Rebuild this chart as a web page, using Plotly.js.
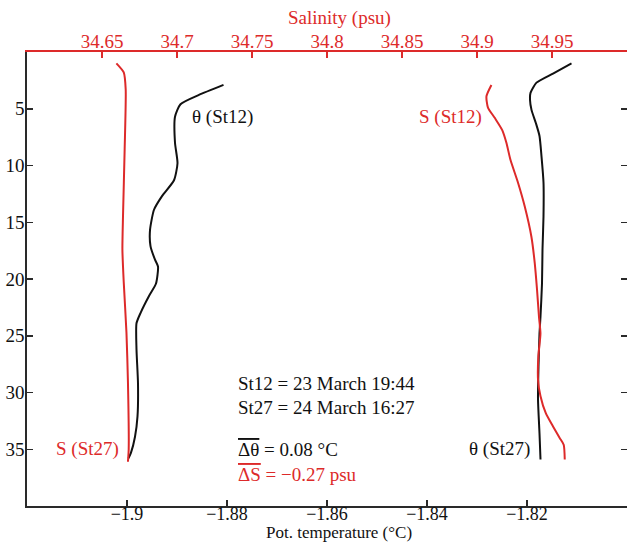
<!DOCTYPE html>
<html>
<head>
<meta charset="utf-8">
<script src="https://cdn.plot.ly/plotly-3.0.1.min.js"></script>
<style>
  html, body { margin: 0; padding: 0; background: #fff; overflow: hidden; }
  #chart { width: 627px; height: 543px; }
</style>
</head>
<body>
<div id="chart"></div>
<script>
// Depth profiles (m) of potential temperature and salinity at two stations
const thetaSt12Depth = [2.9, 3.8, 4.6, 5.7, 8.0, 9.8, 11.3, 12.7, 13.9, 15.7, 17.1, 18.3, 18.9, 20.4, 21.5, 23.0, 23.9, 26.2, 29.2, 32.1, 33.9, 35.3, 35.8];
const thetaSt12 = [-1.8807, -1.8857, -1.8893, -1.8904, -1.8904, -1.8899, -1.8906, -1.8930, -1.8946, -1.8954, -1.8953, -1.8944, -1.8938, -1.8942, -1.8956, -1.8973, -1.8981, -1.8981, -1.8978, -1.8979, -1.8984, -1.8992, -1.8997];

const thetaSt27Depth = [1.0, 1.9, 2.7, 3.6, 4.2, 5.1, 6.3, 7.4, 9.2, 11.5, 14.5, 17.4, 20.4, 23.3, 24.8, 27.7, 30.6, 33.6, 35.9];
const thetaSt27 = [-1.8111, -1.8148, -1.8181, -1.8193, -1.8194, -1.8191, -1.8182, -1.8175, -1.8171, -1.8167, -1.8167, -1.8169, -1.8170, -1.8173, -1.8175, -1.8177, -1.8178, -1.8175, -1.8173];

const salSt12Depth = [2.9, 3.9, 4.9, 5.8, 6.9, 8.0, 9.5, 11.5, 13.6, 16.3, 18.6, 20.9, 23.3, 24.8, 26.8, 28.9, 30.3, 31.8, 33.0, 34.0, 34.6, 35.9];
const salSt12 = [34.9096, 34.9063, 34.9073, 34.9118, 34.9169, 34.9196, 34.9223, 34.9273, 34.9318, 34.9363, 34.9385, 34.9400, 34.9413, 34.9423, 34.9409, 34.9407, 34.9423, 34.9458, 34.9507, 34.9551, 34.9578, 34.9585];

const salSt27Depth = [1.0, 1.8, 3.3, 8.6, 14.5, 17.4, 20.3, 24.7, 29.1, 35.0, 36.1];
const salSt27 = [34.6596, 34.6645, 34.6658, 34.6651, 34.6640, 34.6636, 34.6645, 34.6663, 34.6673, 34.6678, 34.6673];

// Axis ticks
const tempTicks = [-1.90, -1.88, -1.86, -1.84, -1.82];
const tempTickText = ['\u22121.9', '\u22121.88', '\u22121.86', '\u22121.84', '\u22121.82'];
const salTicks = [34.65, 34.70, 34.75, 34.80, 34.85, 34.90, 34.95];
const salTickText = ['34.65', '34.7', '34.75', '34.8', '34.85', '34.9', '34.95'];
const depthTicks = [5, 10, 15, 20, 25, 30, 35];

const SERIF = '"Liberation Serif", "Times New Roman", serif';
const RED = '#dd2a2a';
const BLACK = '#111111';
const AXIS = '#2a2a2a';

const lineStyle = (c) => ({ color: c, width: 2, shape: 'spline', smoothing: 0.6 });

const traces = [
  { x: salSt27, y: salSt27Depth, xaxis: 'x2', yaxis: 'y', mode: 'lines', line: lineStyle(RED), name: 'S (St27)' },
  { x: salSt12, y: salSt12Depth, xaxis: 'x2', yaxis: 'y', mode: 'lines', line: lineStyle(RED), name: 'S (St12)' },
  { x: thetaSt12, y: thetaSt12Depth, xaxis: 'x', yaxis: 'y', mode: 'lines', line: lineStyle(BLACK), name: '\u03b8 (St12)' },
  { x: thetaSt27, y: thetaSt27Depth, xaxis: 'x', yaxis: 'y', mode: 'lines', line: lineStyle(BLACK), name: '\u03b8 (St27)' }
];

const ann = (text, x, y, color, xanchor) => ({
  text: text, xref: 'paper', yref: 'y', x: x, y: y,
  xanchor: xanchor || 'left', yanchor: 'middle', showarrow: false,
  font: { family: SERIF, size: 19, color: color }
});

// Axis titles, placed in paper space just outside the plot frame
const axisTitle = (text, y, yanchor, color, size) => ({
  text: text, xref: 'paper', yref: 'paper', x: 0.52, y: y,
  xanchor: 'center', yanchor: yanchor, showarrow: false, borderpad: 0,
  font: { family: SERIF, size: size, color: color }
});

const layout = {
  width: 627, height: 543,
  margin: { l: 27, r: 0, t: 52, b: 37 },
  paper_bgcolor: '#ffffff', plot_bgcolor: '#ffffff',
  showlegend: false,
  font: { family: SERIF, size: 19, color: BLACK },
  xaxis: {
    range: [-1.92, -1.80], side: 'bottom',
    tickvals: tempTicks, ticktext: tempTickText,
    ticks: 'inside', ticklen: 6, tickwidth: 1.5, tickcolor: AXIS,
    ticklabelstandoff: -9,
    showline: true, linecolor: AXIS, linewidth: 1.6, mirror: false,
    showgrid: false, zeroline: false,
    tickfont: { family: SERIF, size: 18, color: BLACK }
  },
  xaxis2: {
    range: [34.6, 35.0], side: 'top', overlaying: 'x', anchor: 'y',
    tickvals: salTicks, ticktext: salTickText,
    ticks: 'inside', ticklen: 6, tickwidth: 1.5, tickcolor: RED,
    ticklabelstandoff: -5,
    showline: true, linecolor: RED, linewidth: 1.6,
    showgrid: false, zeroline: false,
    tickfont: { family: SERIF, size: 19, color: RED }
  },
  yaxis: {
    range: [40, 0],
    tickvals: depthTicks,
    ticks: 'inside', ticklen: 6, tickwidth: 1.5, tickcolor: AXIS,
    ticklabelstandoff: -3,
    showline: true, linecolor: AXIS, linewidth: 1.6, mirror: 'ticks',
    showgrid: false, zeroline: false,
    tickfont: { family: SERIF, size: 19, color: BLACK }
  },
  annotations: [
    axisTitle('Salinity (psu)', 1.0485, 'bottom', RED, 19),
    axisTitle('Pot. temperature (\u00b0C)', -0.0815, 'bottom', BLACK, 17),
    ann('\u03b8 (St12)', 0.272, 5.7, BLACK),
    ann('S (St12)', 0.762, 5.7, RED, 'right'),
    ann('S (St27)', 0.045, 35.0, RED),
    ann('\u03b8 (St27)', 0.733, 35.0, BLACK),
    ann('St12 = 23 March 19:44', 0.348, 29.2, BLACK),
    ann('St27 = 24 March 16:27', 0.348, 31.3, BLACK),
    ann('<span style="text-decoration:overline">\u0394\u03b8</span> = 0.08 \u00b0C', 0.348, 35.0, BLACK),
    ann('<span style="text-decoration:overline">\u0394S</span> = \u22120.27 psu', 0.348, 37.2, RED)
  ]
};

Plotly.newPlot('chart', traces, layout, { displayModeBar: false, staticPlot: true });
</script>
</body>
</html>
